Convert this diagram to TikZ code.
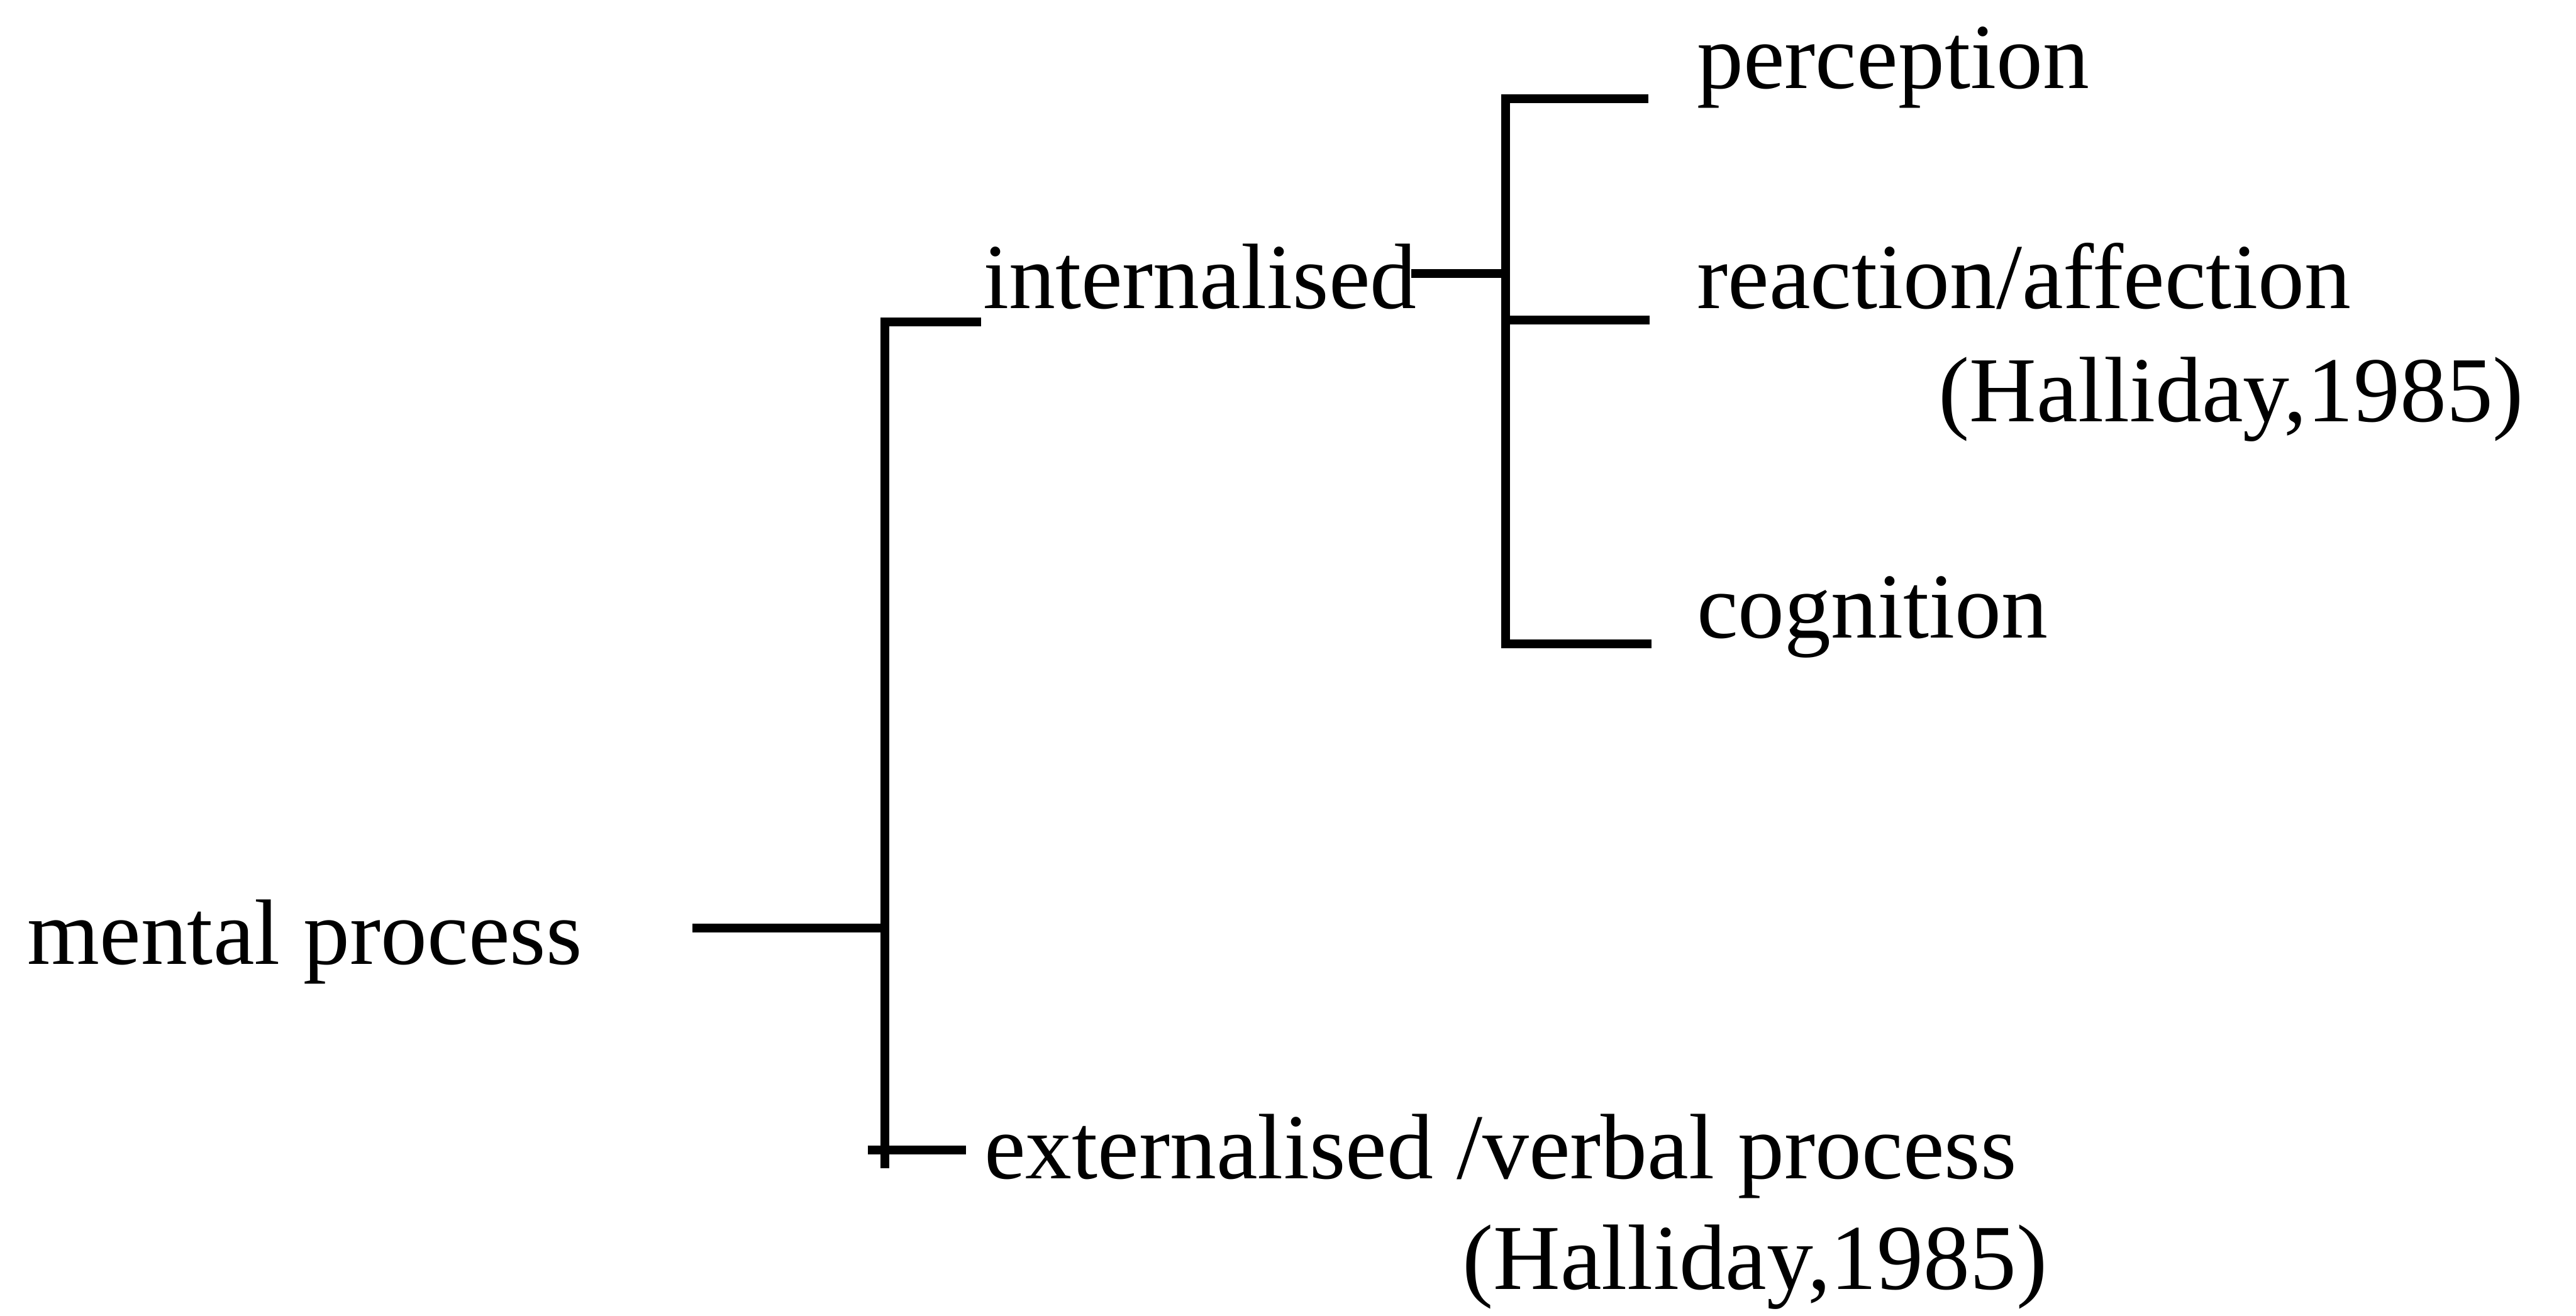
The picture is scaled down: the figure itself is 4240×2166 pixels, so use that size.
\documentclass[tikz,border=0pt]{standalone}
\usepackage{fontspec}
\setmainfont{Liberation Serif}
\begin{document}
\begin{tikzpicture}[x=0.1pt,y=-0.1pt,
  label/.style={anchor=base west,inner sep=0pt,outer sep=0pt,
    font=\fontsize{15.3pt}{18pt}\selectfont},
  branch/.style={line width=1.45pt,line join=miter}]
\useasboundingbox (0,0) rectangle (4240,2166);

% labels
\node[label] (mental) at (45,1587) {mental process};
\node[label] (intern) at (1618,508) {internalised};
\node[label] (extern) at (1620,1940) {externalised /verbal process};
\node[label] (hallB) at (2407,2123) {(Halliday,1985)};
\node[label] (percep) at (2793,145) {perception};
\node[label] (react) at (2793,508) {reaction/affection};
\node[label] (hallA) at (3191,694) {(Halliday,1985)};
\node[label] (cogn) at (2793,1050) {cognition};

% junction points of the left bracket
\coordinate (mEnd) at (1140,1528);
\coordinate (lTop) at (1456,530);
\coordinate (lMid) at (1456,1528);
\coordinate (lBot) at (1456,1923);
\coordinate (iTip) at (1615,530);
\coordinate (eStart) at (1428,1893);
\coordinate (eTip) at (1590,1893);

% junction points of the right bracket
\coordinate (iEnd) at (2323,450);
\coordinate (rIn) at (2478,450);
\coordinate (rTop) at (2478,163);
\coordinate (rMid) at (2478,527);
\coordinate (rBot) at (2478,1060);
\coordinate (pTip) at (2713,163);
\coordinate (aTip) at (2715,527);
\coordinate (cTip) at (2718,1060);

% left bracket
\draw[branch] (mEnd) -- (lMid);
\draw[branch] (iTip) -- (lTop) -- (lBot);
\draw[branch] (eStart) -- (eTip);

% right bracket
\draw[branch] (iEnd) -- (rIn);
\draw[branch] (pTip) -- (rTop) -- (rBot) -- (cTip);
\draw[branch] (rMid) -- (aTip);
\end{tikzpicture}
\end{document}
